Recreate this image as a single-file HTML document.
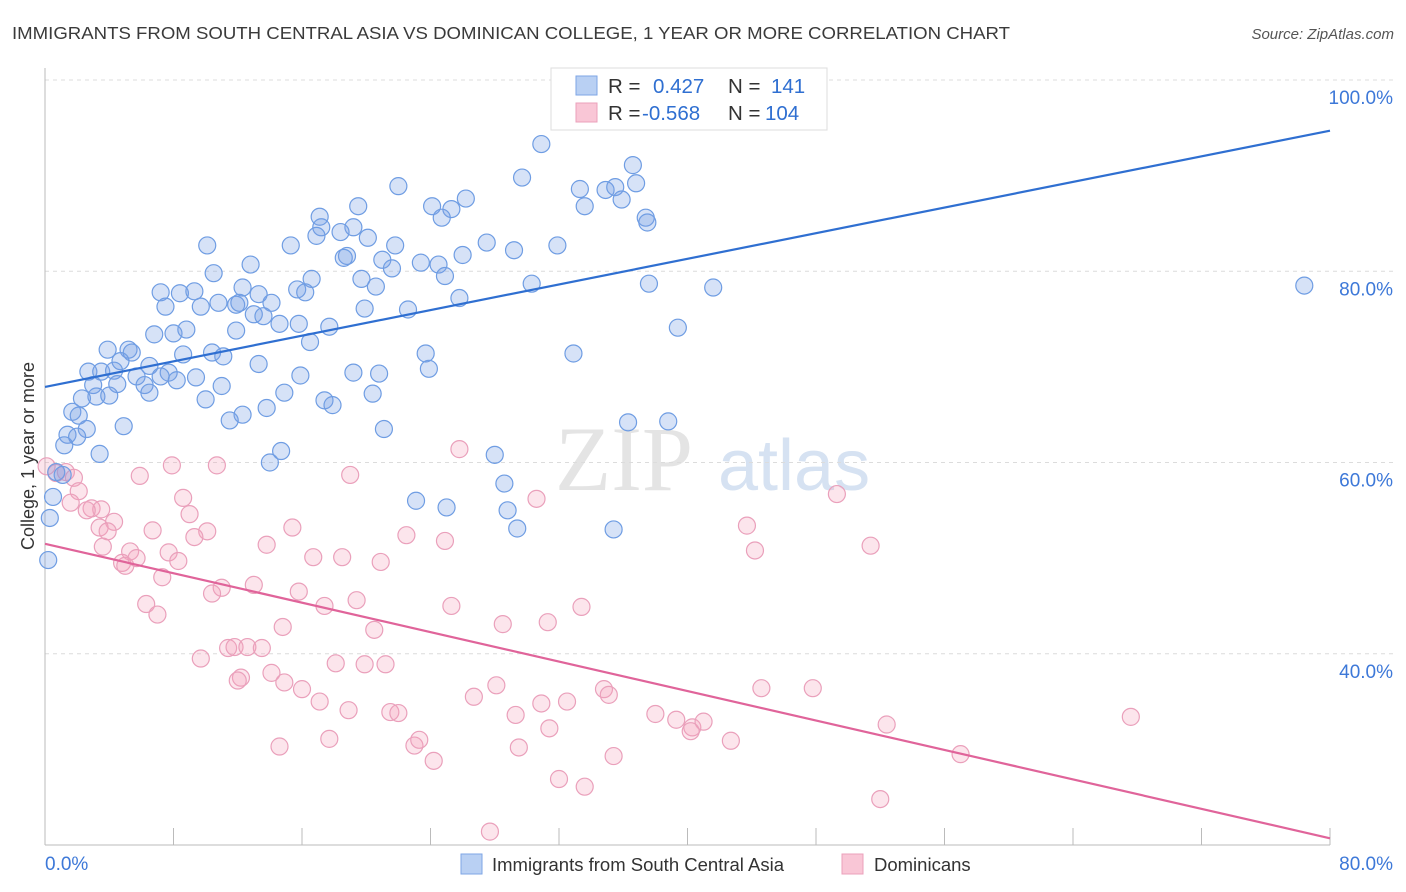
<!DOCTYPE html>
<html><head><meta charset="utf-8"><style>
body{margin:0;background:#fff;font-family:"Liberation Sans",sans-serif;}
svg{display:block}
</style></head><body>
<svg id="chart" width="1406" height="892" viewBox="0 0 1406 892" xmlns="http://www.w3.org/2000/svg" font-family="Liberation Sans, sans-serif">
<text x="12" y="39" font-size="17.5" fill="#3a3a3a" textLength="998" lengthAdjust="spacingAndGlyphs">IMMIGRANTS FROM SOUTH CENTRAL ASIA VS DOMINICAN COLLEGE, 1 YEAR OR MORE CORRELATION CHART</text>
<text x="1394" y="39" font-size="15" fill="#555" font-style="italic" text-anchor="end">Source: ZipAtlas.com</text>
<g>
<text x="555" y="490" font-size="92" fill="#e4e4e4" font-family="Liberation Serif, serif">ZIP</text>
<text x="718" y="490" font-size="72" fill="#d6e2f2">atlas</text>
</g>
<g id="grid"></g>
<g id="axes"></g>
<g id="points"></g>
<g id="lines"></g>
<g>
<rect x="551" y="68" width="276" height="62" fill="#fff" stroke="#ddd"/>
<rect x="576" y="76" width="21" height="19" fill="#b9d0f3" stroke="#7ea6e6"/>
<rect x="576" y="103" width="21" height="19" fill="#f9c6d6" stroke="#eba0bb"/>
<text x="608" y="93" font-size="20.5" fill="#333">R = </text>
<text x="653" y="93" font-size="20.5" fill="#2f6fd1">0.427</text>
<text x="728" y="93" font-size="20.5" fill="#333">N = </text>
<text x="771" y="93" font-size="20.5" fill="#2f6fd1">141</text>
<text x="608" y="120" font-size="20.5" fill="#333">R = </text>
<text x="642" y="120" font-size="20.5" fill="#2f6fd1">-0.568</text>
<text x="728" y="120" font-size="20.5" fill="#333">N = </text>
<text x="765" y="120" font-size="20.5" fill="#2f6fd1">104</text>
</g>
<g>
<rect x="461" y="854" width="21" height="20" fill="#b9d0f3" stroke="#7ea6e6"/>
<text x="492" y="871" font-size="18.5" fill="#333">Immigrants from South Central Asia</text>
<rect x="842" y="854" width="21" height="20" fill="#f9c6d6" stroke="#eba0bb"/>
<text x="874" y="871" font-size="18.5" fill="#333">Dominicans</text>
</g>
<text transform="translate(34,456) rotate(-90)" font-size="18" fill="#333" text-anchor="middle">College, 1 year or more</text>
</svg>
<script>
const yTicks=[40,60,80,100];
const yTickLabels=["40.0%","60.0%","80.0%","100.0%"];
const xTicks=[0,8,16,24,32,40,48,56,64,72,80];
const blueX=[30.9,36.6,29.7,36.8,22.0,33.3,34.9,35.5,26.2,35.9,24.1,33.6,25.3,24.7,19.5,17.1,37.4,37.5,17.2,19.2,16.9,18.4,20.1,10.1,15.3,27.5,21.8,31.9,29.2,18.8,18.6,26.0,21.0,21.6,23.4,24.5,12.8,10.5,16.6,24.9,19.7,30.3,37.6,41.6,78.4,7.2,8.4,9.3,15.7,16.2,12.3,13.3,20.6,25.8,10.8,11.9,12.1,14.1,9.7,7.5,19.9,22.6,13.0,13.6,14.6,15.8,17.7,11.9,6.8,8.0,8.8,39.4,16.5,3.9,5.2,5.4,10.4,11.1,8.6,23.7,32.9,4.7,13.3,6.5,2.7,3.5,4.3,7.7,19.2,20.8,23.9,15.9,5.7,7.2,8.2,9.4,3.0,4.5,6.2,11.0,6.5,20.4,3.2,4.0,10.0,2.3,17.4,17.9,14.9,13.8,1.7,2.1,12.3,11.5,36.3,38.8,2.6,4.9,21.1,1.4,2.0,1.2,3.4,14.7,28.0,14.0,0.7,1.1,28.6,23.1,25.0,0.5,28.8,29.4,35.4,0.3,0.2];
const blueY=[93.3,91.1,89.8,89.2,88.9,88.6,88.5,88.8,87.6,87.5,86.8,86.8,86.5,85.6,86.8,85.7,85.6,85.1,84.6,84.6,83.7,84.1,83.5,82.7,82.7,83.0,82.7,82.7,82.2,81.6,81.4,81.7,81.2,80.3,80.9,80.7,80.7,79.8,79.2,79.5,79.2,78.7,78.7,78.3,78.5,77.8,77.7,77.9,78.1,77.8,78.3,77.6,78.4,77.2,76.7,76.5,76.7,76.7,76.3,76.3,76.1,76.0,75.5,75.3,74.5,74.5,74.2,73.8,73.4,73.5,73.9,74.1,72.6,71.8,71.8,71.5,71.5,71.1,71.3,71.4,71.4,70.6,70.3,70.1,69.5,69.5,69.6,69.4,69.4,69.3,69.8,69.1,69.0,69.0,68.6,68.9,68.1,68.2,68.1,68.0,67.3,67.2,66.9,67.0,66.6,66.7,66.5,66.0,67.3,65.7,65.3,64.9,65.0,64.4,64.2,64.3,63.5,63.8,63.5,62.9,62.7,61.8,60.9,61.2,60.8,60.0,59.0,58.7,57.8,56.0,55.3,56.4,55.0,53.1,53.0,54.2,49.8];
const pinkX=[25.8,0.1,7.9,10.7,19.0,0.7,1.3,1.8,5.9,2.1,8.6,30.6,49.3,1.6,2.9,3.5,2.6,9.0,4.3,3.4,15.4,3.9,6.7,10.1,9.3,22.5,24.9,43.7,51.4,3.6,13.8,5.3,7.7,16.7,18.5,20.9,44.2,4.8,5.0,8.3,5.7,7.3,13.0,11.0,10.4,15.8,6.3,7.0,17.4,19.4,25.3,33.4,14.8,20.5,28.5,31.3,11.4,11.8,12.6,13.5,9.7,18.1,19.9,21.2,14.1,14.9,12.2,16.0,28.1,34.8,35.1,44.6,47.8,26.7,17.1,30.9,32.5,18.9,21.5,22.0,29.3,38.0,39.3,40.3,41.0,40.2,52.4,67.6,31.4,14.6,17.7,23.0,23.3,29.5,42.7,24.2,35.4,57.0,32.0,33.6,52.0,27.7,12.0];
const pinkY=[61.4,59.6,59.7,59.7,58.7,58.9,59.0,58.4,58.6,57.0,56.3,56.2,56.7,55.8,55.2,55.1,55.0,54.6,53.8,53.2,53.2,52.8,52.9,52.8,52.2,52.4,51.8,53.4,51.3,51.2,51.4,50.7,50.6,50.1,50.1,49.6,50.8,49.5,49.2,49.7,50.0,48.0,47.2,46.9,46.3,46.5,45.2,44.1,45.0,45.6,45.0,44.9,42.8,42.5,43.1,43.3,40.6,40.7,40.7,40.6,39.5,39.0,38.9,38.9,38.0,37.0,37.5,36.3,36.7,36.3,35.7,36.4,36.4,35.5,35.0,34.8,35.0,34.1,33.9,33.8,33.6,33.7,33.1,32.3,32.9,31.9,32.6,33.4,32.2,30.3,31.1,30.4,31.0,30.2,30.9,28.8,29.3,29.5,26.9,26.1,24.8,21.4,37.2];
const blueTrend=[67.9,94.7];
const pinkTrend=[51.5,20.7];
const NS="http://www.w3.org/2000/svg";
const X0=45,X1=1330,Y0=845,Y1=80;
function sx(v){return X0+(v-0)/80*(X1-X0);}
function sy(v){return Y0-(v-20)/80*(Y0-Y1);}
function mk(t,a,p){const e=document.createElementNS(NS,t);for(const k in a)e.setAttribute(k,a[k]);p.appendChild(e);return e;}
const grid=document.getElementById('grid'),axes=document.getElementById('axes'),pts=document.getElementById('points'),lines=document.getElementById('lines');
yTicks.forEach((v,i)=>{
 const l=mk('line',{x1:X0,x2:1394,y1:sy(v),y2:sy(v),stroke:'#dcdcdc','stroke-dasharray':'4,4'},grid);
 
 
 const t=mk('text',{x:1393,y:sy(v)+24,'font-size':19,fill:'#3d78d8','text-anchor':'end'},axes);
 t.textContent=yTickLabels[i];
 
 
});
const xa=mk('line',{x1:X0,x2:X1,y1:Y0,y2:Y0,stroke:'#bbb'},axes);


const ya=mk('line',{x1:X0,x2:X0,y1:68,y2:Y0,stroke:'#bbb'},axes);


xTicks.forEach(v=>{
 const t=mk('line',{x1:sx(v),x2:sx(v),y1:Y0,y2:Y0-17,stroke:'#bbb'},axes);
 
 
});
const xl0=mk('text',{x:45,y:870,'font-size':19,fill:'#3d78d8'},axes);xl0.textContent='0.0%';


const xl1=mk('text',{x:1393,y:870,'font-size':19,fill:'#3d78d8','text-anchor':'end'},axes);xl1.textContent='80.0%';


pinkX.forEach((v,i)=>{
 const c=mk('circle',{cx:sx(v),cy:sy(pinkY[i]),r:8.5,fill:'rgba(244,160,188,0.28)',stroke:'#eaa0bb','stroke-width':1.2},pts);
 
 
});
blueX.forEach((v,i)=>{
 const c=mk('circle',{cx:sx(v),cy:sy(blueY[i]),r:8.5,fill:'rgba(120,160,230,0.3)',stroke:'#6f9de3','stroke-width':1.2},pts);
 
 
});
const bl=mk('line',{x1:sx(0),y1:sy(blueTrend[0]),x2:sx(80),y2:sy(blueTrend[1]),stroke:'#2f6fd1','stroke-width':2.2},lines);


const pl=mk('line',{x1:sx(0),y1:sy(pinkTrend[0]),x2:sx(80),y2:sy(pinkTrend[1]),stroke:'#e0649a','stroke-width':2.2},lines);


</script>
</body></html>
